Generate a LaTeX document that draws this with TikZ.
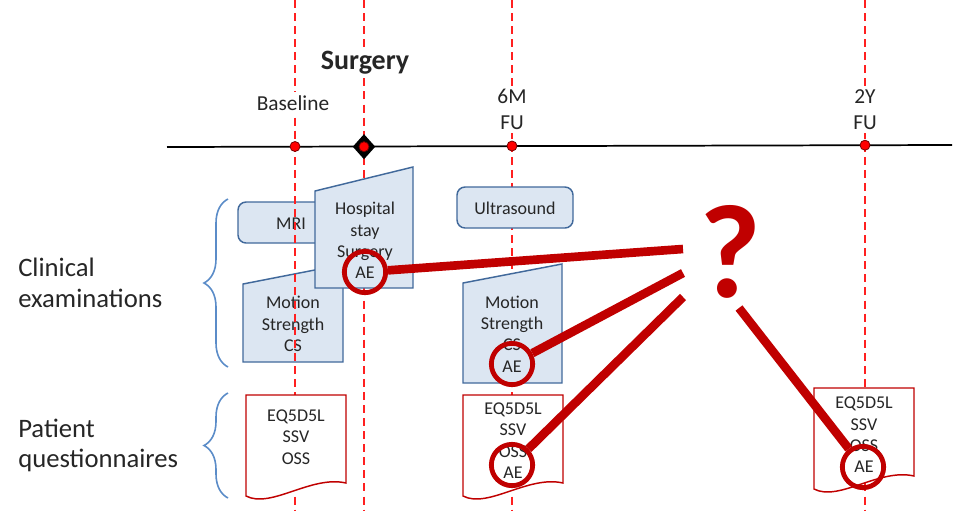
\documentclass[tikz,border=0pt]{standalone}
\usepackage{fontspec}
\setmainfont{Carlito}
\usetikzlibrary{positioning,shapes.geometric,decorations.pathreplacing}
\definecolor{ink}{HTML}{262626}
\definecolor{crim}{HTML}{C00000}
\definecolor{vred}{HTML}{FF2020}
\definecolor{boxln}{HTML}{41699B}
\definecolor{boxbg}{HTML}{DCE6F2}
\definecolor{brc}{HTML}{5B8CC8}
\tikzset{
  vline/.style={vred, line width=1.5pt, dash pattern=on 6pt off 3.8pt},
  exam/.style={draw=boxln, fill=boxbg, line width=1.1pt},
  etxt/.style={font=\fontsize{13.5}{16}\selectfont, text=ink, align=center, inner sep=0pt},
  qdoc/.style={draw=crim, fill=white, line width=1.1pt},
  tlab/.style={font=\fontsize{16}{19}\selectfont, text=ink, align=center, fill=white, inner sep=2.5pt},
  side/.style={font=\fontsize{20}{23}\selectfont, text=ink, align=left, anchor=west, inner sep=0pt},
  grp/.style={draw=brc, line width=1.2pt, decorate, decoration={brace, amplitude=18pt}},
  dot/.style={circle, fill=red, draw=crim!60!black, line width=0.6pt, inner sep=0pt, minimum size=7.5pt},
  ring/.style={circle, draw=crim, line width=3.6pt, inner sep=0pt, minimum size=31pt},
  hit/.style={draw=crim, line width=6.5pt},
}

\begin{document}
\begin{tikzpicture}[x=0.75pt,y=-0.75pt]
  \useasboundingbox (0,0) rectangle (961,511);
  % time points (baseline one comes later, it runs over the first boxes)
  \foreach \x in {364,512,865}
    \draw[vline] (\x,0) -- (\x,511);

  % clinical examinations
  \draw[exam, rounded corners=6pt] (238,202) rectangle (345,243);
  \node[etxt] (mri) at (291,224) {MRI};
  \draw[exam] (243,284) -- (343,264.5) -- (343,362) -- (243,362) -- cycle;
  \node[etxt] (mot0) at (293,324) {Motion\\Strength\\CS};
  \draw[vline] (295,0) -- (295,511);
  \draw[exam] (315,191) -- (413,167) -- (413,288) -- (315,288) -- cycle;
  \node[etxt] (hosp) at (365,240.5) {Hospital\\stay\\Surgery\\AE};
  \draw[exam, rounded corners=6pt] (457,187) rectangle (573,228);
  \node[etxt] (us) at (515,208) {Ultrasound};
  \draw[exam] (463,283) -- (562,264) -- (562,383) -- (463,383) -- cycle;
  \node[etxt] (mot6) at (512,334) {Motion\\Strength\\CS\\AE};

  % patient questionnaires
  \foreach \cx/\t in {296/395,513/395,864/388}
    \draw[qdoc] (\cx-50,\t) -- (\cx+50,\t) -- (\cx+50,\t+88)
      .. controls (\cx+15,\t+80) and (\cx-25,\t+114) .. (\cx-50,\t+101) -- cycle;
  \node[etxt] (q0) at (296,437) {EQ5D5L\\SSV\\OSS};
  \node[etxt] (q6) at (513,440.5) {EQ5D5L\\SSV\\OSS\\AE};
  \node[etxt] (q24) at (864,435) {EQ5D5L\\SSV\\OSS\\AE};

  % braces and row labels
  \draw[grp] (228,367) -- (228,199);
  \draw[grp] (228,498) -- (228,393);
  \node[side] (clin) at (18,283) {Clinical\\examinations};
  \node[side] (pat) at (18,445.5) {Patient\\questionnaires};

  % timeline
  \node[tlab] (base) at (293,103) {Baseline};
  \node[tlab, font=\fontsize{21}{24}\selectfont\bfseries] (surg) at (365,63) {Surgery};
  \node[tlab] (fu6) at (512,109.5) {6M\\FU};
  \node[tlab] (fu24) at (865,109.5) {2Y\\FU};
  \coordinate (t0) at (167,147);
  \coordinate (t1) at (952,145);
  \draw[black, line width=1.3pt] (t0) -- (t1);
  \foreach \x/\y [count=\k] in {295/146.5,512/146,865/145.2}
    \node[dot] (p\k) at (\x,\y) {};
  \node[diamond, fill=black, inner sep=0pt, minimum width=17pt, minimum height=19pt] (op) at (364,146.7) {};
  \node[dot] (opd) at (op) {};

  % adverse events
  \node[font=\fontsize{100}{100}\selectfont\bfseries, text=crim, inner sep=0pt] (qm) at (730,252) {?};
  \node[ring] (c1) at (365,272) {};
  \node[ring] (c2) at (512,364) {};
  \node[ring] (c3) at (512,465) {};
  \node[ring] (c4) at (863,467) {};
  \coordinate (a1) at (683,249);
  \coordinate (a2) at (683,273);
  \coordinate (a3) at (683,297);
  \coordinate (a4) at (739,308);
  \draw[hit] (c1) -- (a1);
  \draw[hit] (c2) -- (a2);
  \draw[hit] (c3) -- (a3);
  \draw[hit] (a4) -- (c4);
\end{tikzpicture}
\end{document}
